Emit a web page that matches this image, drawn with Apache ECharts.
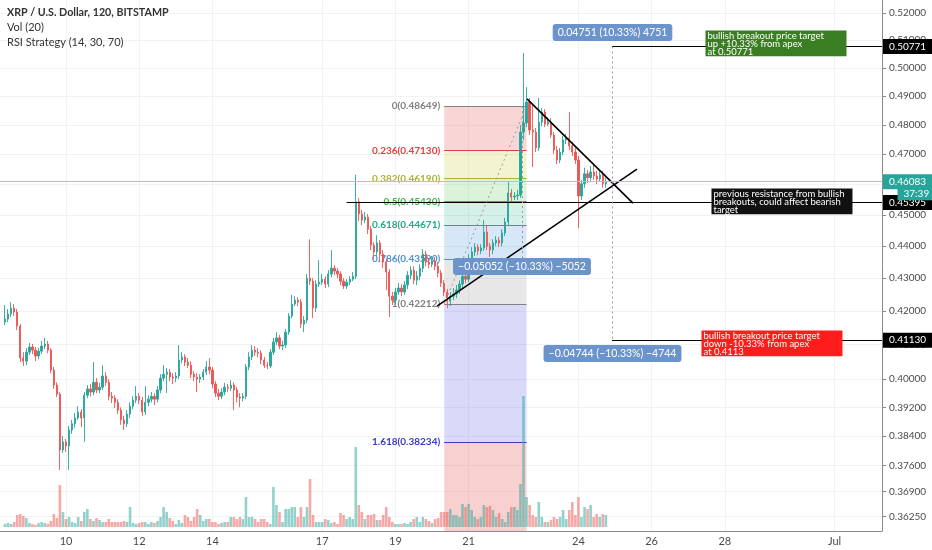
<!DOCTYPE html>
<html><head><meta charset="utf-8">
<script src="https://cdn.jsdelivr.net/npm/echarts@6/dist/echarts.min.js"></script>
<style>html,body{margin:0;padding:0;background:#fff}#c{width:932px;height:550px}</style>
</head><body><div id="c"></div>
<script>
// ---- data (XRP/USD 2h candles, June 2019) ----
const open = [
.4167,.4176,.4191,.4209,.4197,.4155,.4061,.4052,.4078,.4093,
.4084,.4067,.4081,.4096,.4102,.4084,.4026,.3983,.3957,.3802,
.3824,.3813,.3857,.3874,.3890,.3907,.3890,.3954,.3972,.3963,
.3991,.3969,.3977,.4009,.3991,.3951,.3946,.3934,.3912,.3885,
.3874,.3901,.3923,.3940,.3951,.3940,.3907,.3934,.3943,.3951,
.3943,.3969,.4003,.4014,.4020,.4006,.4003,.4009,.4055,.4064,
.4049,.4040,.4014,.4006,.4000,.4006,.4020,.4035,.4026,.3986,
.3960,.3951,.3963,.3977,.3974,.3983,.3969,.3949,.3946,.3951,
.4035,.4064,.4084,.4078,.4075,.4055,.4040,.4038,.4078,.4108,
.4120,.4096,.4099,.4137,.4185,.4221,.4233,.4227,.4161,.4173,
.4300,.4291,.4209,.4282,.4288,.4297,.4282,.4313,.4331,.4322,
.4313,.4291,.4276,.4288,.4297,.4306,.4542,.4503,.4483,.4493,
.4454,.4403,.4382,.4410,.4375,.4350,.4319,.4245,.4233,.4258,
.4270,.4258,.4279,.4309,.4325,.4294,.4306,.4331,.4375,.4350,
.4343,.4353,.4337,.4316,.4285,.4258,.4230,.4245,.4252,.4264,
.4282,.4306,.4297,.4362,.4382,.4397,.4385,.4394,.4445,.4400,
.4388,.4410,.4419,.4410,.4442,.4477,.4571,.4558,.4561,.4564,
.4775,.4806,.4879,.4782,.4775,.4721,.4809,.4844,.4802,.4809,
.4765,.4714,.4680,.4707,.4748,.4755,.4728,.4707,.4680,.4561,
.4601,.4634,.4621,.4640,.4627,.4617,.4631,.4601];
const close = [
.4176,.4191,.4209,.4197,.4155,.4061,.4052,.4078,.4093,.4084,
.4067,.4081,.4096,.4102,.4084,.4026,.3983,.3957,.3802,.3824,
.3813,.3857,.3874,.3890,.3907,.3890,.3954,.3972,.3963,.3991,
.3969,.3977,.4009,.3991,.3951,.3946,.3934,.3912,.3885,.3874,
.3901,.3923,.3940,.3951,.3940,.3907,.3934,.3943,.3951,.3943,
.3969,.4003,.4014,.4020,.4006,.4003,.4009,.4055,.4064,.4049,
.4040,.4014,.4006,.4000,.4006,.4020,.4035,.4026,.3986,.3960,
.3951,.3963,.3977,.3974,.3983,.3969,.3949,.3946,.3951,.4035,
.4064,.4084,.4078,.4075,.4055,.4040,.4038,.4078,.4108,.4120,
.4096,.4099,.4137,.4185,.4221,.4233,.4227,.4161,.4173,.4300,
.4291,.4209,.4282,.4288,.4297,.4282,.4313,.4331,.4322,.4313,
.4291,.4276,.4288,.4297,.4306,.4542,.4503,.4483,.4493,.4454,
.4403,.4382,.4410,.4375,.4350,.4319,.4245,.4233,.4258,.4270,
.4258,.4279,.4309,.4325,.4294,.4306,.4331,.4375,.4350,.4343,
.4353,.4337,.4316,.4285,.4258,.4230,.4245,.4252,.4264,.4282,
.4306,.4297,.4362,.4382,.4397,.4385,.4394,.4445,.4400,.4388,
.4410,.4419,.4410,.4442,.4477,.4571,.4558,.4561,.4564,.4775,
.4806,.4879,.4782,.4775,.4721,.4809,.4844,.4802,.4809,.4765,
.4714,.4680,.4707,.4748,.4755,.4728,.4707,.4680,.4561,.4601,
.4634,.4621,.4640,.4627,.4617,.4631,.4601,.46083];
const high = [
.4218,.4206,.4227,.4221,.4206,.4161,.4078,.4090,.4105,.4102,
.4093,.4090,.4111,.4120,.4111,.4090,.4035,.3991,.3963,.3840,
.3832,.3868,.3885,.3904,.3923,.3915,.3963,.3983,.3986,.4049,
.4003,.3989,.4040,.4020,.4000,.3963,.3954,.3943,.3920,.3896,
.3912,.3934,.3951,.3980,.3960,.3949,.3980,.3954,.3963,.3960,
.3980,.4014,.4040,.4032,.4029,.4017,.4020,.4099,.4078,.4072,
.4061,.4052,.4023,.4017,.4014,.4029,.4052,.4061,.4035,.3994,
.3972,.3974,.3989,.3986,.3997,.3991,.3977,.3960,.3960,.4043,
.4078,.4099,.4096,.4090,.4084,.4064,.4049,.4087,.4120,.4137,
.4129,.4111,.4146,.4194,.4249,.4245,.4242,.4236,.4185,.4313,
.4422,.4300,.4294,.4356,.4313,.4306,.4325,.4388,.4340,.4331,
.4322,.4300,.4297,.4306,.4319,.4631,.4555,.4516,.4509,.4503,
.4464,.4413,.4435,.4419,.4388,.4362,.4328,.4258,.4270,.4285,
.4282,.4291,.4322,.4337,.4337,.4322,.4343,.4391,.4385,.4362,
.4369,.4366,.4350,.4325,.4294,.4267,.4258,.4270,.4279,.4294,
.4319,.4319,.4375,.4397,.4410,.4406,.4406,.4483,.4464,.4410,
.4422,.4432,.4429,.4454,.4490,.4607,.4584,.4574,.4581,.4799,
.5053,.4931,.4893,.4868,.4789,.4893,.4858,.4854,.4826,.4823,
.4775,.4728,.4721,.4762,.4768,.4844,.4741,.4721,.4694,.4614,
.4654,.4647,.4660,.4664,.4644,.4647,.4644,.4621];
const low = [
.4158,.4167,.4182,.4185,.4143,.4049,.4038,.4040,.4070,.4072,
.4052,.4058,.4072,.4087,.4075,.4017,.3972,.3949,.3748,.3794,
.3797,.3748,.3846,.3863,.3885,.3865,.3824,.3946,.3951,.3954,
.3960,.3960,.3969,.3980,.3940,.3932,.3918,.3901,.3871,.3857,
.3865,.3890,.3915,.3932,.3929,.3896,.3898,.3923,.3934,.3926,
.3934,.3960,.3994,.3960,.3994,.3986,.3991,.4000,.4046,.4038,
.4032,.4003,.3994,.3963,.3989,.3997,.4012,.4014,.3974,.3949,
.3940,.3943,.3954,.3963,.3966,.3912,.3934,.3920,.3937,.3943,
.4026,.4055,.4067,.4064,.4043,.4032,.4029,.4032,.4070,.4099,
.4087,.4084,.4090,.4129,.4179,.4215,.4215,.4149,.4137,.4164,
.4279,.4179,.4197,.4273,.4279,.4270,.4273,.4303,.4309,.4300,
.4279,.4267,.4267,.4279,.4291,.4297,.4480,.4467,.4473,.4438,
.4388,.4362,.4369,.4350,.4331,.4264,.4182,.4218,.4221,.4249,
.4245,.4249,.4267,.4297,.4282,.4279,.4294,.4319,.4337,.4331,
.4334,.4325,.4303,.4273,.4245,.4209,.4215,.4233,.4239,.4252,
.4270,.4285,.4288,.4350,.4369,.4372,.4375,.4385,.4388,.4366,
.4375,.4400,.4397,.4400,.4432,.4464,.4545,.4548,.4548,.4555,
.4748,.4792,.4765,.4657,.4707,.4711,.4795,.4792,.4795,.4755,
.4700,.4667,.4670,.4697,.4734,.4714,.4694,.4667,.4457,.4548,
.4588,.4604,.4611,.4614,.4601,.4607,.4588,.4588];
const volume = [
3,4,3,5,12,13,11,9,4,3,
2,4,5,4,3,6,13,9,42,15,
8,10,5,4,10,6,15,18,8,6,
9,7,5,5,8,5,5,5,5,6,
5,20,4,3,4,5,5,3,5,4,
6,10,20,15,9,6,3,7,4,12,
10,6,10,18,12,6,8,8,5,5,
3,4,5,5,10,10,8,10,8,30,
10,10,8,5,8,8,5,3,40,22,
15,5,18,18,20,20,10,20,10,20,
48,12,5,5,5,8,7,4,5,3,
14,12,8,10,8,80,22,15,8,12,
12,13,7,7,12,20,10,5,3,3,
3,4,3,5,8,10,5,10,8,6,
4,8,9,15,15,15,18,12,12,10,
23,20,23,17,10,8,10,22,20,21,
17,10,14,8,5,15,20,20,17,43,
131,30,22,12,10,25,10,5,5,7,
10,8,10,17,8,17,25,12,30,10,
20,18,22,10,13,10,13,12];

const T = (d, h, m) => Date.UTC(2019, 5, d, h || 0, m || 0); // June 2019 (day 31 = Jul 1)
const firstCandle = T(8, 8);
const candleStep = 2 * 3600 * 1000;

const yTicks = [0.52,0.51,0.50,0.49,0.48,0.47,0.46,0.45,0.44,0.43,0.42,0.41,0.40,0.392,0.384,0.376,0.369,0.3625];
const dateTicks = [T(10),T(12),T(14),T(17),T(19),T(21),T(24),T(26),T(28),T(31)];
const priceMin = 0.35874, priceMax = 0.52491;
const xMin = T(8,4,43), xMax = T(32,7,5);

const fibLevels = ['0','0.236','0.382','0.5','0.618','0.786','1','1.618'];
const fibPrices = [0.48649,0.47130,0.46190,0.45430,0.44671,0.43590,0.42212,0.38234];
const fibStart = T(20,8), fibEnd = T(22,14);

const trendLines = [
  [[T(20,3,17), 0.4215], [T(25,14,24), 0.4650]],
  [[T(22,14,18), 0.4890], [T(25,11,46), 0.4538]]
];
const levelLines = [
  {price: 0.50771, from: T(24,22)},
  {price: 0.45395, from: T(17,16)},
  {price: 0.41130, from: T(24,22)}
];
const lastPrice = 0.46083, countdown = '37:39';
const targetSpan = {time: T(24,22), top: 0.50771, bottom: 0.41130};
const fibSpan = {time: T(22,11), top: 0.48649, bottom: 0.43597};
const notes = [
  {t: T(27,11,40), p: 0.51336, text: 'bullish breakout price target\nup +10.33% from apex\nat 0.50771'},
  {t: T(27,15,36), p: 0.45838, text: 'previous resistance from bullish\nbreakouts, could affect bearish\ntarget'},
  {t: T(27,9,2),  p: 0.41402, text: 'bullish breakout price target\ndown -10.33% from apex\nat 0.4113'}
];
const rangeTags = [
  {t: T(24,22,22), p: 0.51281, text: '0.04751 (10.33%) 4751'},
  {t: T(24,22,22), p: 0.40740, text: '\u22120.04744 (\u221210.33%) \u22124744'},
  {t: T(22,11,1),  p: 0.43361, text: '\u22120.05052 (\u221210.33%) \u22125052'}
];

// ---- styles ----
const L = Math.log;
const UP = '#26a69a', DOWN = '#ef5350';
const fibColors = ['#808080','#e0413f','#a9b23a','#43b047','#22a98a','#4a90d2','#808080','#3a3ac4'];
const fibFills = ['rgba(235,120,120,0.30)','rgba(200,212,60,0.25)','rgba(90,200,80,0.22)','rgba(40,180,140,0.20)',
                  'rgba(70,150,220,0.22)','rgba(120,120,130,0.18)','rgba(80,80,230,0.22)','rgba(235,100,100,0.30)'];
const noteColors = ['#3b7d22','#111111','#ff1c1c'];
const FONT = 'Lato, "Noto Sans", sans-serif';

const candleData = close.map((c, i) => [firstCandle + i * candleStep, L(open[i]), L(c), L(low[i]), L(high[i])]);
const volData = volume.map((v, i) => [firstCandle + i * candleStep, v]);

const fibBounds = fibPrices.concat([priceMin]);
const fibAreas = fibFills.map((col, k) => [
  {coord: [fibStart, L(fibBounds[k])], itemStyle: {color: col}},
  {coord: [fibEnd, L(fibBounds[k + 1])]}
]);
const fibLines = fibPrices.map((p, k) => [
  {coord: [fibStart, L(p)], lineStyle: {color: fibColors[k], width: 1, type: 'solid'},
   label: {show: true, position: 'start', distance: 4, formatter: fibLevels[k] + '(' + p.toFixed(5) + ')',
           color: fibColors[k], fontSize: 10, fontWeight: 'bold', fontFamily: FONT}},
  {coord: [fibEnd, L(p)]}
]);

const axisTag = (txt, bg) => ({show: true, position: 'end', distance: 1, formatter: txt, backgroundColor: bg,
  color: '#fff', fontSize: 10, fontFamily: FONT, padding: [2, 6, 2, 6], lineHeight: 11});

const annLines = [];
trendLines.forEach(tl => annLines.push([
  {coord: [tl[0][0], L(tl[0][1])], lineStyle: {color: '#000', width: 1.6, type: 'solid'}, label: {show: false}},
  {coord: [tl[1][0], L(tl[1][1])]}
]));
annLines.push([
  {coord: [xMin, L(lastPrice)], lineStyle: {color: '#8fd3cb', width: 1, type: 'solid'}, label: axisTag(lastPrice.toFixed(5), UP)},
  {coord: [xMax, L(lastPrice)]}
]);
levelLines.forEach(lv => annLines.push([
  {coord: [lv.from, L(lv.price)], lineStyle: {color: '#000', width: 1.2, type: 'solid'}, label: axisTag(lv.price.toFixed(5), '#000')},
  {coord: [xMax, L(lv.price)]}
]));
annLines.push([
  {coord: [targetSpan.time, L(targetSpan.top)], lineStyle: {color: '#9a9a9a', width: 1, type: [2, 3]}, label: {show: false}},
  {coord: [targetSpan.time, L(targetSpan.bottom)]}
]);
annLines.push([
  {coord: [fibSpan.time, L(fibSpan.top)], lineStyle: {color: '#9a9a9a', width: 1, type: [2, 3]}, label: {show: false}},
  {coord: [fibSpan.time, L(fibSpan.bottom)]}
]);
annLines.push([
  {coord: [fibStart, L(fibPrices[6])], lineStyle: {color: '#9a9a9a', width: 1, type: [2, 3]}, label: {show: false}},
  {coord: [fibEnd, L(fibPrices[0])]}
]);

const points = [];
notes.forEach((n, k) => points.push({
  coord: [n.t, L(n.p)], symbol: 'rect', symbolSize: 1, itemStyle: {color: 'rgba(0,0,0,0)'},
  label: {show: true, position: [0, 0], formatter: n.text, backgroundColor: noteColors[k], color: '#fff',
          fontSize: 9.5, lineHeight: 8.2, fontFamily: FONT, padding: [1, 2, 0, 2], width: 137, overflow: 'none'}
}));
rangeTags.forEach(r => points.push({
  coord: [r.t, L(r.p)], symbol: 'rect', symbolSize: 1, itemStyle: {color: 'rgba(0,0,0,0)'},
  label: {show: true, position: 'inside', formatter: r.text, backgroundColor: '#6b94cc', color: '#fff',
          fontSize: 10.5, fontFamily: FONT, padding: [3, 5, 3, 5], borderRadius: 3}
}));
points.push({
  coord: [xMax, L(lastPrice)], symbol: 'rect', symbolSize: 1, itemStyle: {color: 'rgba(0,0,0,0)'},
  label: {show: true, position: [16, 7], formatter: countdown, backgroundColor: UP, color: '#fff',
          fontSize: 10, fontFamily: FONT, padding: [1, 4, 1, 6], lineHeight: 10}
});

const yLo = L(priceMin), yHi = L(priceMax);
const gridLines = yTicks.map(v => [{coord: [xMin, L(v)]}, {coord: [xMax, L(v)]}])
  .concat(dateTicks.map(t => [{coord: [t, yLo]}, {coord: [t, yHi]}]));

const chart = echarts.init(document.getElementById('c'));
chart.setOption({
  animation: false,
  textStyle: {fontFamily: FONT},
  graphic: [
    {type: 'text', z: 20, left: 7, top: 7, style: {text: 'XRP / U.S. Dollar, 120, BITSTAMP', font: 'bold 10.7px ' + FONT, fill: '#333'}},
    {type: 'text', z: 20, left: 7, top: 22, style: {text: 'Vol (20)', font: '11px ' + FONT, fill: '#333'}},
    {type: 'text', z: 20, left: 7, top: 37, style: {text: 'RSI Strategy (14, 30, 70)', font: '11px ' + FONT, fill: '#333'}}
  ],
  grid: [
    {left: 0, right: 50, top: 0, bottom: 19},
    {left: 0, right: 50, bottom: 23, height: 150}
  ],
  xAxis: [
    {type: 'value', gridIndex: 0, min: xMin, max: xMax, splitLine: {show: false},
     axisLine: {lineStyle: {color: '#8a8a8a'}}, axisTick: {show: false},
     axisLabel: {customValues: dateTicks, color: '#4a4a4a', fontSize: 11, margin: 5, hideOverlap: false,
       formatter: v => { const d = new Date(v); return d.getUTCMonth() === 6 ? 'Jul' : String(d.getUTCDate()); }}},
    {type: 'value', gridIndex: 1, min: xMin, max: xMax, show: false}
  ],
  yAxis: [
    {type: 'value', gridIndex: 0, position: 'right', min: yLo, max: yHi, splitLine: {show: false},
     axisLine: {show: true, lineStyle: {color: '#8a8a8a'}},
     axisTick: {show: true, length: 4, customValues: yTicks.map(L), lineStyle: {color: '#8a8a8a'}},
     axisLabel: {customValues: yTicks.map(L), formatter: v => Math.exp(v).toFixed(5), color: '#4a4a4a', fontSize: 10, margin: 7}},
    {type: 'value', gridIndex: 1, min: 0, max: 150, show: false}
  ],
  series: [
    {type: 'line', xAxisIndex: 0, yAxisIndex: 0, data: [], silent: true,
     markLine: {silent: true, z: 0, symbol: ['none', 'none'], label: {show: false},
       lineStyle: {color: '#f1f2f5', width: 1, type: 'solid'}, emphasis: {disabled: true}, data: gridLines}},
    {type: 'line', xAxisIndex: 0, yAxisIndex: 0, data: [], silent: true,
     markArea: {silent: true, z: 1, data: fibAreas, emphasis: {disabled: true}},
     markLine: {silent: true, z: 1, symbol: ['none', 'none'], emphasis: {disabled: true}, data: fibLines}},
    {type: 'bar', xAxisIndex: 1, yAxisIndex: 1, barWidth: 2.6, data: volData, silent: true, z: 2,
     itemStyle: {color: p => close[p.dataIndex] >= open[p.dataIndex] ? 'rgba(38,166,154,0.5)' : 'rgba(239,83,80,0.5)'}},
    {type: 'candlestick', xAxisIndex: 0, yAxisIndex: 0, data: candleData, encode: {x: 0, y: [1, 2, 3, 4]},
     barWidth: 1.8, silent: true, z: 3,
     itemStyle: {color: UP, color0: DOWN, borderColor: UP, borderColor0: DOWN, borderWidth: 0.9}},
    {type: 'line', xAxisIndex: 0, yAxisIndex: 0, data: [], silent: true, clip: false,
     markLine: {silent: true, z: 5, symbol: ['none', 'none'], emphasis: {disabled: true}, data: annLines},
     markPoint: {silent: true, z: 6, emphasis: {disabled: true}, data: points}}
  ]
});
</script></body></html>
